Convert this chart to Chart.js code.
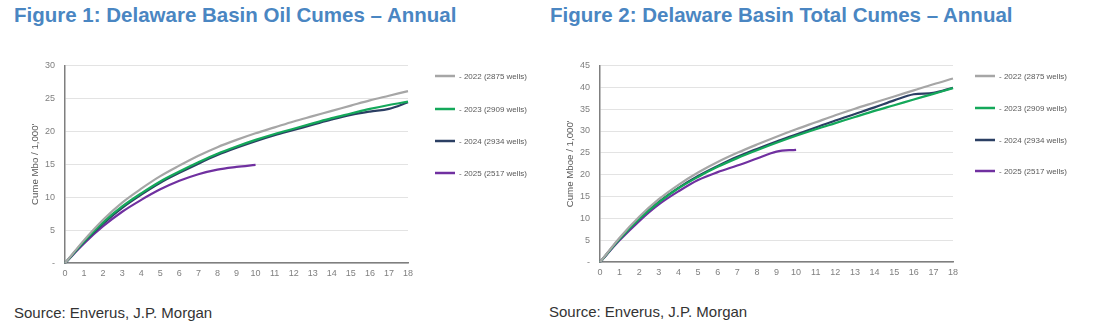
<!DOCTYPE html>
<html>
<head>
<meta charset="utf-8">
<script src="https://cdn.jsdelivr.net/npm/chart.js@4.4.1/dist/chart.umd.min.js"></script>
<style>
  html, body { margin: 0; padding: 0; background: #fff; width: 1105px; height: 336px; overflow: hidden; }
  body { position: relative; font-family: Arial, "Liberation Sans", sans-serif; }
  .title { position: absolute; top: 3px; font-size: 20.5px; font-weight: bold; color: #4a86c2; white-space: nowrap; }
  .source { position: absolute; font-size: 15px; color: #333; white-space: nowrap; }
  .box { position: absolute; top: 50px; height: 240px; }
</style>
</head>
<body>
<div class="title" style="left:14px;">Figure 1: Delaware Basin Oil Cumes – Annual</div>
<div class="title" style="left:550px;">Figure 2: Delaware Basin Total Cumes – Annual</div>
<div class="box" style="left:0px;width:550px;"><canvas id="c1"></canvas></div>
<div class="box" style="left:540px;width:565px;"><canvas id="c2"></canvas></div>
<div class="source" style="left:14px;top:304px;">Source: Enverus, J.P. Morgan</div>
<div class="source" style="left:549px;top:303px;">Source: Enverus, J.P. Morgan</div>
<script>
// Months on production (x categories)
const months = [0,1,2,3,4,5,6,7,8,9,10,11,12,13,14,15,16,17,18];
const seriesLabels = ['- 2022 (2875 wells)', '- 2023 (2909 wells)', '- 2024 (2934 wells)', '- 2025 (2517 wells)'];

// Figure 1: Oil cumes (Mbo / 1,000')
const oil2022 = [0, 3.5, 6.6, 9.2, 11.3, 13.2, 14.8, 16.3, 17.6, 18.7, 19.7, 20.6, 21.5, 22.3, 23.1, 23.9, 24.7, 25.4, 26.1];
const oil2023 = [0, 3.3, 6.2, 8.6, 10.6, 12.4, 13.9, 15.3, 16.6, 17.7, 18.7, 19.6, 20.4, 21.2, 22.0, 22.7, 23.4, 24.0, 24.5];
const oil2024 = [0, 3.2, 6.0, 8.4, 10.4, 12.2, 13.7, 15.1, 16.4, 17.5, 18.5, 19.4, 20.2, 21.0, 21.8, 22.5, 23.0, 23.4, 24.4];
const oil2025 = [0, 3.0, 5.6, 7.8, 9.6, 11.2, 12.5, 13.5, 14.2, 14.6, 14.9];

// Figure 2: Total cumes (Mboe / 1,000')
const tot2022 = [0, 5.6, 10.4, 14.4, 17.7, 20.5, 22.9, 25.0, 26.9, 28.7, 30.4, 32.0, 33.6, 35.1, 36.5, 37.9, 39.3, 40.7, 42.0];
const tot2023 = [0, 5.3, 9.9, 13.7, 16.9, 19.5, 21.8, 23.8, 25.6, 27.3, 28.9, 30.4, 31.8, 33.2, 34.6, 35.9, 37.2, 38.5, 39.8];
const tot2024 = [0, 5.3, 9.9, 13.8, 17.0, 19.7, 22.0, 24.1, 25.9, 27.6, 29.2, 30.8, 32.4, 33.9, 35.4, 37.0, 38.4, 38.7, 39.9];
const tot2025 = [0, 5.0, 9.4, 13.2, 16.2, 18.8, 20.6, 22.1, 23.7, 25.3, 25.7];

const colors = ['#a6a6a6', '#14a85a', '#2b3f63', '#7030a0'];

function legendPlugin(boxX, rowYs) {
  return {
    id: 'sideLegend',
    afterDraw(chart) {
      const ctx = chart.ctx;
      ctx.save();
      ctx.font = '8px Arial, "Liberation Sans", sans-serif';
      ctx.textBaseline = 'middle';
      ctx.textAlign = 'left';
      chart.data.datasets.forEach((ds, i) => {
        const y = rowYs[i];
        ctx.strokeStyle = ds.borderColor;
        ctx.lineWidth = 2.5;
        ctx.beginPath();
        ctx.moveTo(boxX, y);
        ctx.lineTo(boxX + 20, y);
        ctx.stroke();
        ctx.fillStyle = '#595959';
        ctx.fillText(ds.label, boxX + 24, y + 0.5);
      });
      ctx.restore();
    }
  };
}

function makeChart(id, datasets, yMax, yTitle, pad, yWidth, legendX, legendYs) {
  return new Chart(document.getElementById(id), {
    type: 'line',
    data: {
      labels: months,
      datasets: datasets.map((d, i) => ({
        label: seriesLabels[i],
        data: d,
        borderColor: colors[i],
        backgroundColor: colors[i],
        borderWidth: 2.2,
        pointRadius: 0,
        tension: 0.35,
        fill: false
      }))
    },
    options: {
      responsive: true,
      maintainAspectRatio: false,
      animation: false,
      devicePixelRatio: 1,
      layout: { padding: pad },
      plugins: { legend: { display: false }, tooltip: { enabled: false } },
      scales: {
        x: {
          type: 'category',
          offset: false,
          grid: { display: false, drawTicks: false },
          border: { display: true, color: '#7f7f7f', width: 1.5 },
          ticks: { color: '#7f7f7f', font: { size: 9, family: 'Arial' }, padding: 5, maxRotation: 0, autoSkip: false }
        },
        y: {
          min: 0, max: yMax,
          afterFit: (s) => { s.width = yWidth; },
          grid: { color: '#e3e3e3', drawTicks: false, lineWidth: 1 },
          border: { display: true, color: '#7f7f7f', width: 1.5 },
          ticks: {
            stepSize: 5, color: '#7f7f7f', font: { size: 9, family: 'Arial' }, padding: 10,
            callback: (v) => v === 0 ? '-' : v
          },
          title: { display: true, text: yTitle, color: '#595959', font: { size: 9.7, family: 'Arial' }, padding: 0 }
        }
      }
    },
    plugins: [legendPlugin(legendX, legendYs)]
  });
}

makeChart('c1', [oil2022, oil2023, oil2024, oil2025], 30, "Cume Mbo / 1,000'",
  { left: 30, top: 15, right: 142, bottom: 6 }, 35, 435, [26, 59, 91, 123]);
makeChart('c2', [tot2022, tot2023, tot2024, tot2025], 45, "Cume Mboe / 1,000'",
  { left: 25, top: 15, right: 152, bottom: 7 }, 35, 435, [26, 58, 90, 121]);
</script>
</body>
</html>
